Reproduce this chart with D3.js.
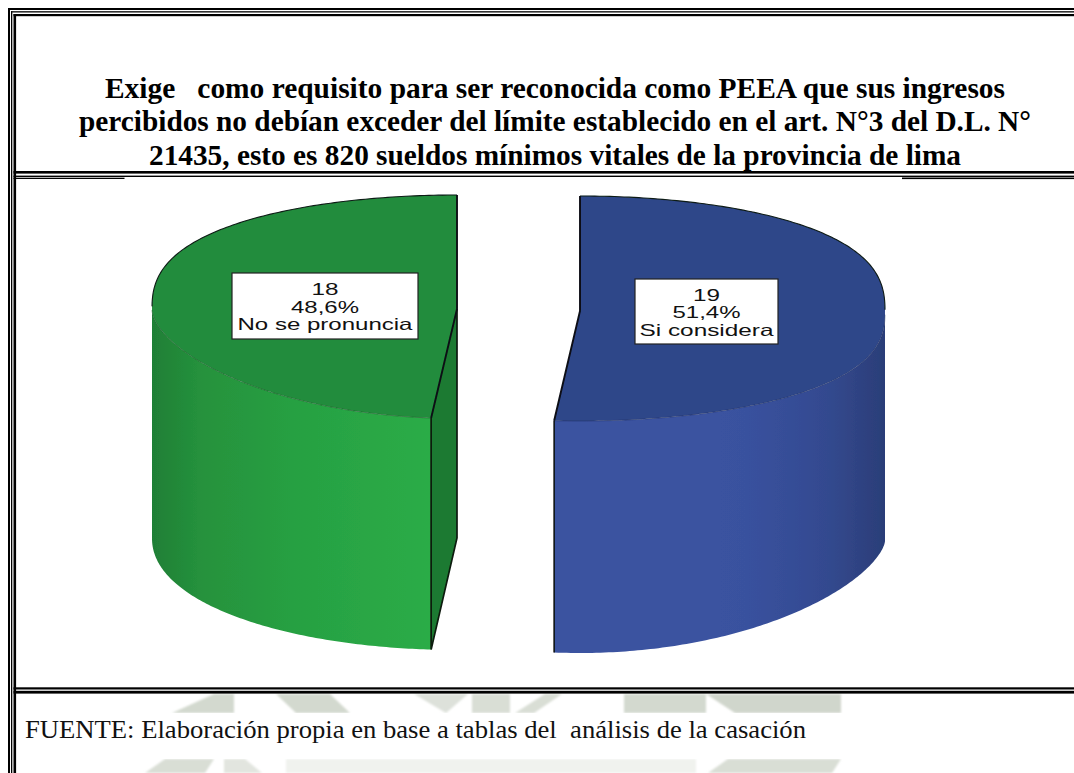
<!DOCTYPE html>
<html lang="es">
<head>
<meta charset="utf-8">
<script src="https://cdn.jsdelivr.net/npm/d3@7/dist/d3.min.js"></script>
<style>html,body{margin:0;padding:0;background:#fff}svg{display:block}</style>
</head>
<body>
<svg id="c" width="1074" height="773"></svg>
<script>
const categories = ["Si considera", "No se pronuncia"];
const counts = [19, 18];
const percents = ["51,4%", "48,6%"];
const titleLines = [
  "Exige   como requisito para ser reconocida como PEEA que sus ingresos",
  "percibidos no debían exceder del límite establecido en el art. N°3 del D.L. N°",
  "21435, esto es 820 sueldos mínimos vitales de la provincia de lima"
];
const sourceText = "FUENTE: Elaboración propia en base a tablas del  análisis de la casación";

const svg = d3.select("#c");
const defs = svg.append("defs");
defs.append("filter").attr("id", "soft").append("feGaussianBlur").attr("stdDeviation", 0.45);
defs.append("filter").attr("id", "wmBlur").append("feGaussianBlur").attr("stdDeviation", 0.8);

// faint watermark remnants in the footer
const wm = [
  ["#d3d9cf", [[172,713],[214,694],[234,694],[234,713]]],
  ["#d3d9cf", [[276,694],[330,694],[350,713],[296,713]]],
  ["#dde1da", [[414,694],[468,694],[446,713]]],
  ["#d9ded5", [[472,694],[510,694],[510,713],[472,713]]],
  ["#d9ded5", [[515,713],[545,694],[562,694],[534,713]]],
  ["#d3d9cf", [[624,694],[706,694],[706,713],[624,713]]],
  ["#d0d6cc", [[706,694],[841,694],[841,713],[735,713]]],
  ["#f0f2ee", [[286,759],[696,759],[696,773],[286,773]]],
  ["#d9ded5", [[145,773],[165,759],[214,759],[205,773]]],
  ["#e2e5df", [[224,759],[245,759],[262,773],[224,773]]],
  ["#d9ded5", [[708,773],[728,759],[841,759],[832,773]]]
];
const wmG = svg.append("g").attr("filter", "url(#wmBlur)");
wmG.selectAll("polygon").data(wm).join("polygon")
  .attr("points", d => d[1].join(" ")).attr("fill", d => d[0]);
// white strip behind the source line
svg.append("rect").attr("x", 16).attr("y", 713).attr("width", 1058).attr("height", 46).attr("fill", "#fff");

// page-table double rules
const rules = [
  [8,8,1066,2],[11,11.2,1063,1.3],[13.5,14,1060.5,2.2],
  [13.5,171,1060.5,2.6],[13.5,175.6,1060.5,1.4],[13.5,177.7,111,1.3],[902,177.5,172,1.6],
  [13.5,687.3,1060.5,2.2],[13.5,690.8,1060.5,2.8],
  [8,8,2,765],[11,11.2,1.3,761.8],[13.5,14,2.6,759]
];
svg.append("g").selectAll("rect").data(rules).join("rect")
  .attr("x", d => d[0]).attr("y", d => d[1]).attr("width", d => d[2]).attr("height", d => d[3])
  .attr("fill", "#000");

// title & source
const titleW = [900, 952, 812];
svg.append("g").selectAll("text").data(titleLines).join("text")
  .attr("x", 555).attr("y", (d, i) => [98, 131, 165][i]).attr("text-anchor", "middle")
  .attr("font-family", "'Liberation Serif'").attr("font-weight", "bold").attr("font-size", 29)
  .attr("fill", "#000").attr("xml:space", "preserve")
  .attr("textLength", (d, i) => titleW[i]).attr("lengthAdjust", "spacingAndGlyphs").text(d => d);

svg.append("text").attr("x", 25).attr("y", 738)
  .attr("font-family", "'Liberation Serif'").attr("font-size", 25.6).attr("fill", "#111")
  .attr("xml:space", "preserve").attr("textLength", 781).attr("lengthAdjust", "spacingAndGlyphs").text(sourceText);

// pie geometry (values → angles through d3.pie, angles → picture through the tilted projection)
const deg = Math.PI / 180;
const arcs = d3.pie().sort(null).value(d => d)(counts);
const layout = [
  {cx: 580, cy: 312, apex: 311, rx: 305, back: 116, front: 109, pBack: .77, pFront: .8,
   floor: 541, floorRy: 112, pFloor: 1.3, top: "#2f4689",
   wall: d3.scaleLinear().domain([0, .55, .8, 1]).range(["#3a52a0", "#3a52a0", "#344b92", "#2b3e78"]),
   box: [635, 279, 143, 65], base: [300.5, 318, 335.5], widths: [27, 68, 134]},
  {cx: 457, cy: 310, apex: 309, rx: 305, back: 115, front: 108.5, pBack: .78, pFront: 1.2,
   floor: 538, floorRy: 112, pFloor: .95, top: "#238c3c",
   wall: d3.scaleLinear().domain([0, .15, .5, 1]).range(["#1f7f36", "#25903c", "#27a042", "#2bac47"]),
   box: [232, 273, 186, 66], base: [295, 312.5, 330], widths: [27, 68, 175]}
];
const pieG = svg.append("g").attr("filter", "url(#soft)");
const line = d3.line();
const rimPt = (g, a) => {
  const c = Math.cos(a);
  const y = c >= 0 ? g.cy - g.back * Math.pow(c, g.pBack) : g.cy + g.front * Math.pow(-c, g.pFront);
  return [g.cx + g.rx * Math.sin(a), y];
};
const floorPt = (g, a) => [g.cx + g.rx * Math.sin(a), g.floor + g.floorRy * Math.pow(Math.max(0, -Math.cos(a)), g.pFloor)];
const sweep = (p, q, n) => d3.range(n + 1).map(k => p + (q - p) * k / n);

arcs.forEach((arc, i) => {
  const g = layout[i];
  const a0 = arc.startAngle, a1 = arc.endAngle;
  const wa0 = Math.max(a0, 90 * deg), wa1 = Math.min(a1, 270 * deg);
  const wallAngles = sweep(wa0, wa1, 120);

  // wall, shaded left-right with a gradient
  const xExtent = d3.extent(wallAngles, a => rimPt(g, a)[0]);
  const gid = "wall" + i;
  const grad = defs.append("linearGradient").attr("id", gid).attr("gradientUnits", "userSpaceOnUse")
    .attr("x1", xExtent[0]).attr("x2", xExtent[1]).attr("y1", 0).attr("y2", 0);
  sweep(0, 1, 12).forEach(t => grad.append("stop").attr("offset", t).attr("stop-color", g.wall(t)));
  const wallPts = wallAngles.map(a => rimPt(g, a)).concat(wallAngles.slice().reverse().map(a => floorPt(g, a)));
  pieG.append("path").attr("d", line(wallPts) + "Z").attr("fill", `url(#${gid})`);

  // cut face of the green slice
  if (i === 1) {
    const rim = rimPt(g, a0), fl = floorPt(g, a0);
    const face = [[g.cx, g.apex], rim, fl, [g.cx, g.floor]];
    pieG.append("path").attr("d", line(face) + "Z").attr("fill", "#1d7a30");
    pieG.append("path").attr("d", line([rim, fl, [g.cx, g.floor], [g.cx, g.apex]]))
      .attr("fill", "none").attr("stroke", "#0c1a10").attr("stroke-width", 1.7);
  }

  // top face
  const topAngles = sweep(a0, a1, 200);
  const topPts = topAngles.map(a => rimPt(g, a));
  pieG.append("path").attr("d", line([[g.cx, g.apex]].concat(topPts)) + "Z").attr("fill", g.top);
  const rimFront = topPts.filter((p, k) => topAngles[k] > 90 * deg && topAngles[k] < 270 * deg);
  const rimBack1 = topPts.filter((p, k) => topAngles[k] <= 90 * deg);
  const rimBack2 = topPts.filter((p, k) => topAngles[k] >= 270 * deg);
  pieG.append("path").attr("d", line(rimFront)).attr("fill", "none")
    .attr("stroke", i ? "#14401f" : "#1b2a55").attr("stroke-opacity", .6).attr("stroke-width", .7);
  [rimBack1, rimBack2].filter(r => r.length > 1).forEach(r =>
    pieG.append("path").attr("d", line(r)).attr("fill", "none").attr("stroke", "#0d1a14").attr("stroke-width", 1.1));

  // radial edges
  const straight = i === 0
    ? [rimPt(g, a0), [g.cx, g.apex], rimPt(g, a1)]
    : [rimPt(g, a1), [g.cx, g.apex], rimPt(g, a0)];
  pieG.append("path").attr("d", line(straight)).attr("fill", "none").attr("stroke", "#0b0f14").attr("stroke-width", 1.9);
  if (i === 0) {
    pieG.append("path").attr("d", line([rimPt(g, a1), floorPt(g, a1)])).attr("fill", "none")
      .attr("stroke", "#0b0f14").attr("stroke-width", 1.6);
  }

  // label
  const lb = svg.append("g");
  lb.append("rect").attr("x", g.box[0]).attr("y", g.box[1]).attr("width", g.box[2]).attr("height", g.box[3])
    .attr("fill", "#fff").attr("stroke", "#222").attr("stroke-width", 1.2);
  const labelLines = [String(counts[i]), percents[i], categories[i]];
  lb.selectAll("text").data(labelLines).join("text")
    .attr("x", g.box[0] + g.box[2] / 2).attr("y", (d, k) => g.base[k]).attr("text-anchor", "middle")
    .attr("font-family", "'Liberation Sans'").attr("font-size", 16.5).attr("fill", "#111")
    .attr("textLength", (d, k) => g.widths[k]).attr("lengthAdjust", "spacingAndGlyphs").text(d => d);
});
</script>
</body>
</html>
